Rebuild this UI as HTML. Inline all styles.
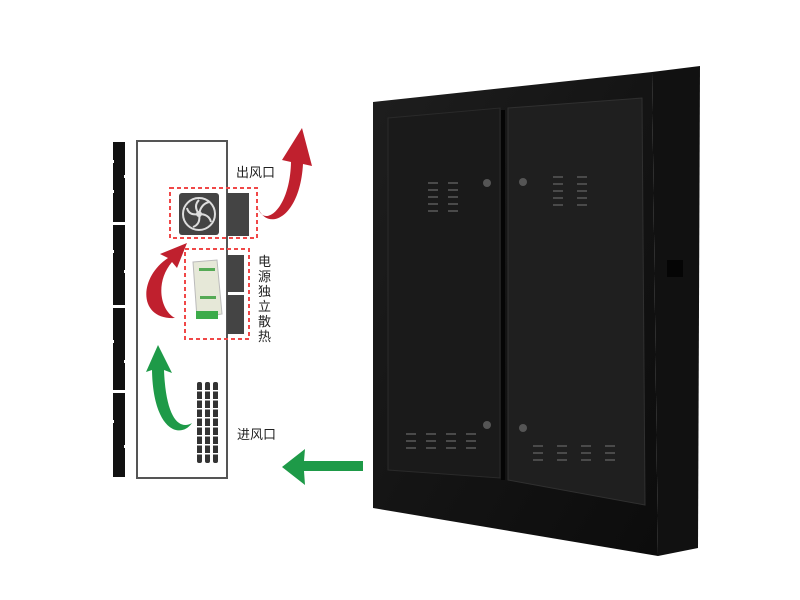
<!DOCTYPE html>
<html><head><meta charset="utf-8"><style>
html,body{margin:0;padding:0;background:#fff;width:800px;height:600px;overflow:hidden}
svg{display:block}
text{font-family:"Liberation Sans","Noto Sans CJK SC",sans-serif;font-size:13px;fill:#222}
</style></head><body>
<svg width="800" height="600" viewBox="0 0 800 600" xmlns="http://www.w3.org/2000/svg">
<defs>
<linearGradient id="fg" x1="0" y1="0" x2="1" y2="1">
<stop offset="0" stop-color="#1e1e1e"/><stop offset="0.5" stop-color="#141414"/><stop offset="1" stop-color="#0c0c0c"/>
</linearGradient>
</defs>
<g fill="#111">
<rect x="113" y="142" width="12" height="80"/>
<rect x="113" y="225" width="12" height="80"/>
<rect x="113" y="308" width="12" height="82"/>
<rect x="113" y="393" width="12" height="84"/>
</g>
<g fill="#fff">
<rect x="110" y="160" width="4" height="3"/><rect x="110" y="190" width="4" height="3"/><rect x="124" y="175" width="3" height="3"/>
<rect x="110" y="250" width="4" height="3"/><rect x="124" y="270" width="3" height="3"/>
<rect x="110" y="340" width="4" height="3"/><rect x="124" y="360" width="3" height="3"/>
<rect x="110" y="420" width="4" height="3"/><rect x="124" y="445" width="3" height="3"/>
</g>
<rect x="137" y="141" width="90" height="337" fill="#fff" stroke="#555" stroke-width="2"/>
<rect x="170" y="188" width="87" height="50" fill="none" stroke="#f04848" stroke-width="2" stroke-dasharray="4,3"/>
<rect x="179" y="193" width="40" height="42" rx="3" fill="#444"/>
<circle cx="199" cy="214" r="16" fill="none" stroke="#ddd" stroke-width="2"/>
<g stroke="#ddd" stroke-width="2" fill="none">
<path d="M199 214 q2 -10 10 -12"/><path d="M199 214 q10 0 12 8"/><path d="M199 214 q2 10 -6 13"/><path d="M199 214 q-10 2 -12 -6"/><path d="M199 214 q-6 -8 0 -14"/>
</g>
<circle cx="199" cy="214" r="3" fill="#ddd"/>
<rect x="227" y="193" width="22" height="43" fill="#444"/>
<rect x="185" y="249" width="64" height="90" fill="none" stroke="#f04848" stroke-width="2" stroke-dasharray="4,3"/>
<rect x="227" y="255" width="17" height="37" fill="#444"/>
<rect x="227" y="295" width="17" height="39" fill="#444"/>
<path d="M193 262 L217 260 L222 314 L197 318 Z" fill="#e6e8d8" stroke="#bbb"/>
<rect x="196" y="311" width="22" height="8" fill="#3cab4a"/>
<rect x="199" y="268" width="16" height="3" fill="#5a5"/>
<rect x="200" y="296" width="16" height="3" fill="#5a5"/>
<g fill="#333">
<rect x="197" y="382" width="5" height="81" rx="2"/>
<rect x="205" y="382" width="5" height="81" rx="2"/>
<rect x="213" y="382" width="5" height="81" rx="2"/>
</g>
<g fill="#fff">
<rect x="196" y="390" width="23" height="1.5"/><rect x="196" y="399" width="23" height="1.5"/><rect x="196" y="408" width="23" height="1.5"/><rect x="196" y="417" width="23" height="1.5"/><rect x="196" y="426" width="23" height="1.5"/><rect x="196" y="435" width="23" height="1.5"/><rect x="196" y="444" width="23" height="1.5"/><rect x="196" y="453" width="23" height="1.5"/>
</g>
<path d="M258 208 C264 228 290 210 291 162 L282 160 L302 128 L312 166 L303 164 C300 218 268 232 258 208 Z" fill="#c0202e"/>
<path d="M175 318 C138 320 138 278 168 258 L160 254 L187 243 L177 268 L172 262 C155 282 160 310 175 318 Z" fill="#c0202e"/>
<path d="M192 423 C180 440 153 430 152 370 L146 372 L158 345 L172 373 L164 370 C166 420 180 430 192 423 Z" fill="#1e9a48"/>
<path d="M282 467 L305 449 L304 461 L363 461 L363 471 L304 471 L305 485 Z" fill="#1e9a48"/>
<text x="236" y="177">出风口</text>
<text x="258" y="266">电</text><text x="258" y="281">源</text><text x="258" y="296">独</text><text x="258" y="311">立</text><text x="258" y="326">散</text><text x="258" y="341">热</text>
<text x="237" y="439">进风口</text>
<path d="M652 72 L700 66 L698 548 L658 556 Z" fill="#111"/>
<path d="M373 102 L652 72 L658 556 L373 508 Z" fill="url(#fg)"/>
<rect x="667" y="260" width="16" height="17" fill="#050505"/>
<path d="M388 118 L500 108 L500 478 L388 470 Z" fill="#1a1a1a" stroke="#2a2a2a"/>
<path d="M508 108 L642 98 L645 505 L508 480 Z" fill="#1f1f1f" stroke="#303030"/>
<line x1="503" y1="110" x2="503" y2="480" stroke="#050505" stroke-width="4"/>
<g fill="#555">
<circle cx="487" cy="183" r="4"/><circle cx="523" cy="182" r="4"/><circle cx="487" cy="425" r="4"/><circle cx="523" cy="428" r="4"/>
</g>
<g stroke="#4a4a4a" stroke-width="2">
<path d="M428 183h10M428 190h10M428 197h10M428 204h10M428 211h10M448 183h10M448 190h10M448 197h10M448 204h10M448 211h10"/>
<path d="M553 177h10M553 184h10M553 191h10M553 198h10M553 205h10M577 177h10M577 184h10M577 191h10M577 198h10M577 205h10"/>
<path d="M406 434h10M406 441h10M406 448h10M426 434h10M426 441h10M426 448h10M446 434h10M446 441h10M446 448h10M466 434h10M466 441h10M466 448h10"/>
<path d="M533 446h10M533 453h10M533 460h10M557 446h10M557 453h10M557 460h10M581 446h10M581 453h10M581 460h10M605 446h10M605 453h10M605 460h10"/>
</g>
</svg>
</body></html>
